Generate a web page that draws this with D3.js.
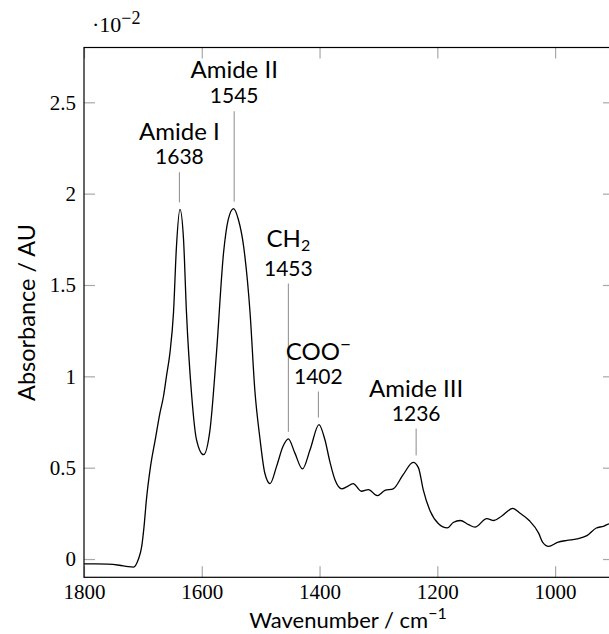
<!DOCTYPE html>
<html>
<head>
<meta charset="utf-8">
<script src="https://cdn.jsdelivr.net/npm/d3@7"></script>
<style>
  html, body { margin: 0; padding: 0; background: #fff; }
  svg { display: block; }
</style>
</head>
<body>
<svg id="chart" width="609" height="634"></svg>
<script>
// ---- data (absorbance shown in units of 10^-2) ----
const wavenumber = [1800, 1780, 1760, 1740, 1725, 1716, 1708, 1702, 1698, 1694, 1687, 1679, 1671, 1665, 1660, 1654, 1648, 1643, 1637, 1631, 1626, 1617, 1609, 1597, 1586, 1575, 1563, 1555, 1546, 1538, 1529, 1518, 1510, 1501, 1493, 1484, 1473, 1462, 1453, 1442, 1429, 1416, 1401, 1391, 1382, 1374, 1362, 1354, 1343, 1329, 1317, 1302, 1289, 1275, 1258, 1241, 1232, 1224, 1212, 1198, 1183, 1173, 1161, 1147, 1136, 1116, 1104, 1091, 1072, 1060, 1044, 1028, 1021, 1011, 996, 980, 963, 946, 930, 918, 908, 900];
const absorbance = [-0.027, -0.027, -0.028, -0.034, -0.042, -0.044, -0.004, 0.069, 0.179, 0.325, 0.507, 0.654, 0.80, 0.891, 1.0, 1.13, 1.35, 1.71, 1.914, 1.75, 1.35, 0.89, 0.654, 0.571, 0.708, 1.13, 1.677, 1.859, 1.918, 1.86, 1.713, 1.348, 0.928, 0.654, 0.471, 0.413, 0.507, 0.617, 0.658, 0.581, 0.493, 0.599, 0.736, 0.654, 0.526, 0.435, 0.384, 0.395, 0.413, 0.371, 0.38, 0.347, 0.376, 0.384, 0.462, 0.529, 0.499, 0.38, 0.261, 0.193, 0.17, 0.2, 0.211, 0.188, 0.175, 0.221, 0.211, 0.234, 0.277, 0.252, 0.211, 0.142, 0.091, 0.069, 0.091, 0.102, 0.11, 0.128, 0.17, 0.179, 0.193, 0.195];

const xTicks = [1800, 1600, 1400, 1200, 1000];
const yTicks = [0, 0.5, 1, 1.5, 2, 2.5];

const peakNames = ["Amide I", "Amide II", "CH2", "COO-", "Amide III"];
const peakPositions = [1638, 1545, 1453, 1402, 1236];
const peakValues = [1.914, 1.918, 0.658, 0.736, 0.529];
const pinTops = [2.117, 2.451, 1.508, 0.917, 0.714];

// ---- layout ----
const svg = d3.select("#chart");
const L = 84, R = 614, T = 47.5, B = 577.3;
const x = d3.scaleLinear().domain([1800, 900]).range([L, R]);
const y = d3.scaleLinear().domain([-0.1, 2.8]).range([B, T]);

const serif = "'Liberation Serif', 'Times New Roman', serif";
const sans = "Lato, 'Open Sans', 'DejaVu Sans', sans-serif";
const tickColor = "#a8a8a8";

svg.append("defs").append("clipPath").attr("id", "plotclip")
  .append("rect").attr("x", L).attr("y", T).attr("width", R - L).attr("height", B - T);

function styleAxis(g) {
  g.select(".domain").remove();
  g.selectAll(".tick line").attr("stroke", tickColor).attr("stroke-width", 1.2);
  g.selectAll(".tick text").attr("font-family", serif).attr("font-size", 21).attr("fill", "#000");
}

svg.append("g").attr("transform", `translate(0,${B})`)
  .call(d3.axisBottom(x).tickValues(xTicks).tickSize(-11).tickPadding(7).tickFormat(d => String(d)))
  .call(styleAxis);
svg.append("g").attr("transform", `translate(0,${T})`)
  .call(d3.axisTop(x).tickValues(xTicks).tickSize(-11).tickFormat(""))
  .call(styleAxis);
svg.append("g").attr("transform", `translate(${L},0)`)
  .call(d3.axisLeft(y).tickValues(yTicks).tickSize(-11).tickPadding(8).tickFormat(d => String(d)))
  .call(styleAxis);
svg.append("g").attr("transform", `translate(${R},0)`)
  .call(d3.axisRight(y).tickValues(yTicks).tickSize(-11).tickFormat(""))
  .call(styleAxis);

// frame
svg.append("rect").attr("x", L).attr("y", T).attr("width", R - L).attr("height", B - T)
  .attr("fill", "none").attr("stroke", "#000").attr("stroke-width", 1.2);

// spectrum
const pts = wavenumber.map((w, i) => [w, absorbance[i]]);
svg.append("path").datum(pts)
  .attr("clip-path", "url(#plotclip)")
  .attr("fill", "none").attr("stroke", "#000").attr("stroke-width", 1.3)
  .attr("d", d3.line().x(d => x(d[0])).y(d => y(d[1])).curve(d3.curveMonotoneX));

// annotations
const ann = svg.append("g");
peakNames.forEach((name, i) => {
  const px = x(peakPositions[i]);
  const yTop = y(pinTops[i]);
  const yBot = y(peakValues[i]) - 7;
  ann.append("line").attr("x1", px).attr("x2", px).attr("y1", yTop).attr("y2", yBot)
    .attr("stroke", "#8a8a8a").attr("stroke-width", 1);
  // number
  ann.append("text").attr("x", px).attr("y", yTop - 8)
    .attr("text-anchor", "middle").attr("font-family", sans).attr("font-size", 21)
    .text(String(peakPositions[i]));
  // name
  const gap = name === "CH2" ? 29 : (name === "COO-" ? 23.5 : (name === "Amide II" ? 25 : 24));
  const t = ann.append("text").attr("x", px).attr("y", yTop - 8 - gap)
    .attr("text-anchor", "middle").attr("font-family", sans).attr("font-size", 24);
  if (name === "CH2") {
    t.append("tspan").text("CH");
    t.append("tspan").attr("font-size", 16).attr("dy", 4).text("2");
  } else if (name === "COO-") {
    t.append("tspan").text("COO");
    t.append("tspan").attr("font-size", 19).attr("dy", -9).text("\u2212");
  } else {
    t.text(name);
  }
});

// multiplier
const mult = svg.append("text").attr("x", 92).attr("y", 32).attr("font-family", serif).attr("font-size", 22);
mult.append("tspan").text("\u00b710");
mult.append("tspan").attr("font-size", 18).attr("dy", -8).text("\u22122");

// axis labels
const xl = svg.append("text").attr("x", 348).attr("y", 628).attr("text-anchor", "middle")
  .attr("font-family", sans).attr("font-size", 22);
xl.append("tspan").text("Wavenumber / cm");
xl.append("tspan").attr("font-size", 16).attr("dy", -9).text("\u22121");

svg.append("text").attr("transform", `translate(35,${(T + B) / 2}) rotate(-90)`)
  .attr("text-anchor", "middle").attr("font-family", sans).attr("font-size", 23.5)
  .text("Absorbance / AU");
</script>
</body>
</html>
